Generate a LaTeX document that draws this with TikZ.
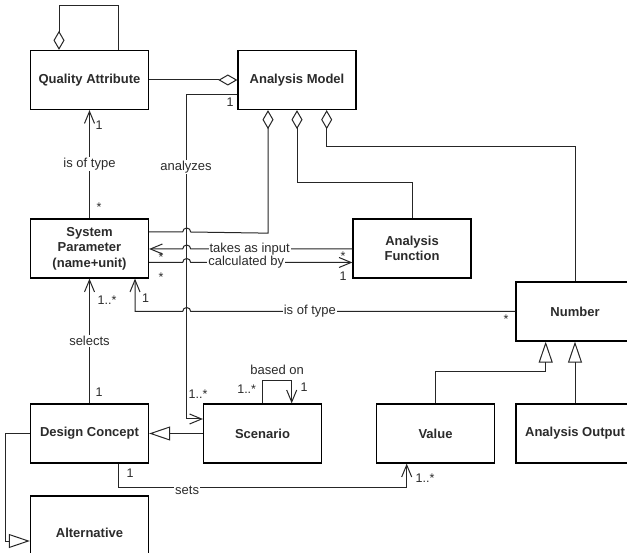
\documentclass[tikz,border=0pt]{standalone}
\usepackage{fontspec}
\setmainfont{Liberation Sans}
\usetikzlibrary{arrows.meta}
\definecolor{txt}{HTML}{2B2B2B}
\begin{document}
\begin{tikzpicture}[x=1pt,y=-1pt,
  box/.style={draw=black,line width=1.3pt,minimum width=118pt,minimum height=59pt,inner sep=0pt,align=center,text=txt,font=\bfseries\fontsize{13}{15.5}\selectfont},
  conn/.style={draw=black!85,line width=1pt},
  agg/.style={conn,{Diamond[open,length=19pt,width=11pt]}-},
  assoc/.style={conn,-{Straight Barb[length=12pt,width=10pt]}},
  gen/.style={conn,-{Triangle[open,length=21pt,width=14pt]}},
  lbl/.style={fill=white,inner sep=1pt,text=txt,font=\fontsize{13}{15}\selectfont},
  mult/.style={inner sep=0pt,text=txt,font=\fontsize{12.5}{14}\selectfont},
  starl/.style={mult,yshift=-2.5pt}
]
\useasboundingbox (0,0) rectangle (627,553);
\clip (0,0) rectangle (627,553);
\fill[white] (0,0) rectangle (627,553);

% boxes
\node[box] (QA)  at (89.5,80)    {Quality Attribute};
\node[box] (AM)  at (297,80)     {Analysis Model};
\node[box] (SP)  at (89.5,248.5) {System\\Parameter\\(name+unit)};
\node[box] (AF)  at (412,248.5)  {Analysis\\Function};
\node[box] (Num) at (575,311.5)  {Number};
\node[box] (DC)  at (89.5,433.5) {Design Concept};
\node[box] (Sc)  at (262.5,433.5){Scenario};
\node[box] (Val) at (435.5,433.5){Value};
\node[box] (AO)  at (575,433.5)  {Analysis Output};
\node[box,minimum height=74pt] (Alt) at (89.5,533) {Alternative};

% QA self aggregation
\draw[agg] ([xshift=-30.5pt]QA.north) -- ++(0,-44) -| ([xshift=28.5pt]QA.north);
% QA - AM
\draw[agg] (AM.west) -- (QA.east);
% AM - SP (hop)
\draw[agg] ([xshift=-29pt]AM.south) -- ++(0,123) -- (190.7,232) arc[start angle=0,end angle=180,radius=4pt] -- ([yshift=16.5pt]SP.east);
% AM - AF
\draw[agg] (AM.south) -- ++(0,72) -| (AF.north);
% AM - Number
\draw[agg] ([xshift=29.7pt]AM.south) -- ++(0,36) -| (Num.north);

% analyzes
\draw[assoc] ([yshift=-15pt]AM.west) -- ++(-51.3,0) -- node[lbl,pos=0.222]{analyzes} ++(0,324) -- ([yshift=14.5pt]Sc.west);
\node[mult] (m1) at (230,102) {1};
\node[starl] (m2) at (198,392) {1..*};

% takes as input
\draw[assoc] ([yshift=-0.5pt]AF.west) -- node[lbl,pos=0.635]{takes as input} (190.7,249) arc[start angle=0,end angle=180,radius=4pt] -- ([yshift=-0.5pt]SP.east);
\node[starl] (m3) at (161,255) {*};
\node[starl] (m4) at (343,254) {*};

% calculated by
\draw[assoc] ([yshift=-14pt]SP.east) -- (182.7,262.5) arc[start angle=180,end angle=0,radius=4pt] -- node[lbl,pos=0.344]{calculated by} ([yshift=-14pt]AF.west);
\node[starl] (m5) at (161,275) {*};
\node[mult] (m6) at (343,276) {1};

% Number is of type SP
\draw[assoc] (Num.west) -- node[lbl,pos=0.633]{is of type} (190.7,311.5) arc[start angle=0,end angle=180,radius=4pt] -| ([xshift=45.5pt]SP.south);
\node[mult] (m7) at (145.7,298) {1};
\node[starl] (m8) at (506,317) {*};

% SP is of type QA
\draw[assoc] (SP.north) -- node[lbl]{is of type} (QA.south);
\node[mult] (m9) at (99,125.5) {1};
\node[starl] (m10) at (99,205) {*};

% selects
\draw[assoc] (DC.north) -- node[lbl]{selects} (SP.south);
\node[starl] (m11) at (107,298) {1..*};
\node[mult] (m12) at (99,392) {1};

% Scenario generalizes DC
\draw[gen] (Sc.west) -- (DC.east);
% Alternative generalizes DC
\draw[gen] (DC.west) -- ++(-24.3,0) |- ([yshift=-8pt]Alt.west);

% based on
\draw[assoc] ([xshift=0.2pt]Sc.north) -- ++(0,-23.3) -- node[text=txt,inner sep=0pt,yshift=10pt,font=\fontsize{13}{15}\selectfont]{based on} ++(29,0) -- ([xshift=29.2pt]Sc.north);
\node[starl] (m13) at (246.7,387) {1..*};
\node[mult] (m14) at (304,387) {1};

% sets
\draw[assoc] ([xshift=29pt]DC.south) -- ++(0,23.7) -- node[lbl,pos=0.238,yshift=-3pt]{sets} ++(288.2,0) -- ([xshift=-28.8pt]Val.south);
\node[mult] (m15) at (130,473) {1};
\node[starl] (m16) at (425,476) {1..*};

% Value, Analysis Output generalize Number
\draw[gen] ([xshift=-0.5pt]Val.north) -- ++(0,-31.7) -| ([xshift=-29.3pt]Num.south);
\draw[gen] (AO.north) -- (Num.south);
\end{tikzpicture}
\end{document}
